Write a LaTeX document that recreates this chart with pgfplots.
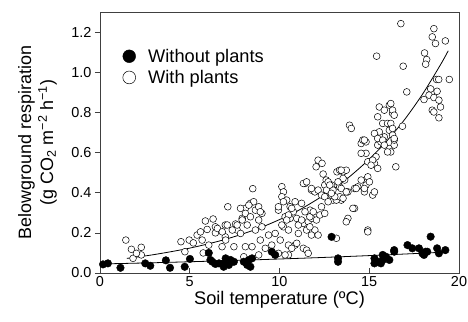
\documentclass[border=0pt]{standalone}
\usepackage{pgfplots}
\pgfplotsset{compat=1.18}
\usepackage{fontspec}
\setmainfont{Liberation Sans}

\pgfplotstableread{
x y
1.44 0.164
1.75 0.118
2.30 0.128
1.84 0.073
2.30 0.090
2.03 0.098
4.51 0.156
4.97 0.164
4.73 0.106
5.41 0.189
5.69 0.164
5.87 0.259
5.97 0.217
6.30 0.269
6.43 0.230
6.43 0.200
5.60 0.205
5.20 0.150
5.75 0.100
6.06 0.139
6.80 0.131
6.98 0.180
7.12 0.330
6.98 0.239
6.54 0.222
7.55 0.244
7.64 0.214
7.92 0.272
8.10 0.322
8.51 0.420
8.38 0.347
8.56 0.355
8.66 0.313
8.84 0.330
9.02 0.297
7.83 0.322
8.10 0.297
8.29 0.338
8.93 0.305
8.38 0.280
8.84 0.264
7.92 0.264
7.64 0.239
8.20 0.239
7.37 0.214
7.09 0.239
6.81 0.205
7.83 0.197
8.66 0.214
9.02 0.230
9.39 0.189
9.76 0.197
8.93 0.164
8.47 0.131
8.10 0.131
9.21 0.123
9.57 0.139
10.04 0.164
10.50 0.139
10.87 0.139
11.33 0.123
11.51 0.114
10.50 0.090
9.94 0.098
8.84 0.090
8.01 0.081
7.46 0.131
7.00 0.164
10.13 0.430
10.22 0.404
10.13 0.380
10.40 0.363
10.59 0.330
10.87 0.355
11.23 0.347
10.77 0.305
10.96 0.272
10.59 0.272
10.31 0.280
9.94 0.313
10.22 0.230
10.50 0.214
11.05 0.197
11.33 0.247
11.60 0.256
11.79 0.272
12.06 0.264
11.97 0.214
11.51 0.214
11.70 0.313
11.42 0.446
11.78 0.413
11.97 0.404
12.15 0.413
12.34 0.388
12.52 0.380
12.98 0.363
12.15 0.562
12.37 0.546
12.04 0.529
12.43 0.493
12.60 0.463
12.90 0.438
12.70 0.416
13.20 0.504
10.22 0.355
9.94 0.330
10.68 0.322
10.50 0.289
10.40 0.264
10.13 0.239
11.05 0.239
11.23 0.264
11.42 0.305
11.69 0.280
11.88 0.305
12.25 0.289
11.69 0.230
11.78 0.189
12.15 0.189
12.34 0.330
12.71 0.355
12.52 0.297
12.89 0.388
12.98 0.413
13.35 0.429
13.44 0.363
13.17 0.363
13.81 0.404
14.18 0.421
14.36 0.429
14.55 0.463
14.92 0.463
14.73 0.404
15.19 0.388
15.29 0.404
14.82 0.438
13.63 0.463
13.35 0.512
13.54 0.504
13.72 0.512
12.52 0.438
12.71 0.454
12.62 0.413
11.33 0.446
11.51 0.454
11.78 0.421
14.18 0.322
13.81 0.272
13.72 0.255
14.92 0.214
10.96 0.148
10.31 0.090
10.68 0.123
11.60 0.098
13.17 0.173
14.55 0.645
14.82 0.596
15.01 0.554
15.29 0.546
15.38 0.579
14.64 0.662
14.82 0.653
15.47 0.637
15.65 0.653
15.84 0.678
15.56 0.687
16.12 0.620
16.20 0.603
16.39 0.637
16.48 0.529
15.56 0.827
15.84 0.811
16.12 0.836
16.30 0.795
15.47 0.778
15.75 0.745
16.02 0.745
15.56 0.703
15.29 0.695
15.47 0.670
15.75 0.662
16.12 0.711
16.30 0.687
16.39 0.662
16.02 0.603
15.84 0.637
14.73 0.662
14.55 0.596
14.92 0.554
15.19 0.562
15.10 0.537
15.47 0.521
14.92 0.479
15.01 0.454
14.73 0.421
14.27 0.421
13.90 0.736
14.00 0.720
13.44 0.512
13.54 0.471
13.26 0.454
13.44 0.421
13.35 0.380
13.08 0.380
12.89 0.397
12.80 0.438
13.72 0.404
13.54 0.372
14.09 0.322
14.92 0.205
16.76 1.242
18.60 1.217
18.51 1.176
18.69 1.143
19.24 1.156
18.08 1.096
18.20 1.063
18.14 1.040
16.89 1.030
18.75 0.964
18.87 0.964
19.46 0.964
17.09 0.902
18.42 0.917
18.78 0.905
18.33 0.886
18.60 0.874
18.88 0.861
18.05 0.864
18.97 0.827
18.51 0.811
18.60 0.802
18.88 0.773
16.20 0.844
16.30 0.811
16.39 0.786
16.20 0.745
16.30 0.720
16.85 0.731
15.41 1.080
16.39 0.670
}\withplants

\pgfplotstableread{
x y
0.17 0.043
0.44 0.048
1.14 0.026
2.52 0.048
2.80 0.036
3.67 0.063
3.90 0.026
4.72 0.031
5.01 0.070
6.06 0.100
6.15 0.065
6.43 0.045
6.89 0.031
6.26 0.056
6.63 0.048
7.00 0.073
7.27 0.065
7.18 0.040
7.46 0.056
6.91 0.048
8.01 0.056
8.29 0.065
8.47 0.073
8.38 0.031
8.20 0.040
9.57 0.106
9.76 0.090
12.90 0.180
13.26 0.073
13.26 0.056
15.29 0.073
15.47 0.056
15.75 0.065
15.93 0.081
15.65 0.048
16.39 0.106
15.29 0.048
15.75 0.090
16.12 0.065
16.39 0.114
17.13 0.139
17.40 0.123
17.77 0.123
18.05 0.090
18.23 0.106
18.42 0.181
18.78 0.123
18.88 0.098
19.24 0.114
18.14 0.106
17.96 0.098
}\withoutplants

\pgfplotstableread{
x y
1.5 0.0729
3 0.0915
5 0.124
7 0.168
9 0.228
11 0.309
13 0.418
14 0.487
15 0.567
16 0.660
17 0.768
18 0.895
19 1.042
19.4 1.107
}\fitwith

\pgfplotstableread{
x y
0 0.045
2.5 0.050
5 0.056
7.5 0.0625
10 0.0697
12.5 0.0777
15 0.0867
17.5 0.0967
19.4 0.105
}\fitwithout

\pgfplotsset{
  openleg/.style={legend image code/.code={\path[draw=none,fill=none] (0bp,0bp) -- (27bp,0bp); \draw[mark=*, mark size=6.4bp, draw=black, fill=white, line width=0.5pt] plot coordinates {(10bp,0bp)};}},
  filledleg/.style={legend image code/.code={\path[draw=none,fill=none] (0bp,0bp) -- (27bp,0bp); \draw[mark=*, mark size=6.4bp, draw=black, fill=black] plot coordinates {(10bp,0bp)};}},
}

\begin{document}
\begin{tikzpicture}
\begin{axis}[
  scale only axis, width=359bp, height=261bp,
  xmin=0, xmax=20, ymin=0, ymax=1.3,
  xtick={0,5,10,15,20}, ytick={0,0.2,0.4,0.6,0.8,1.0,1.2},
  yticklabel style={/pgf/number format/.cd, fixed, fixed zerofill, precision=1},
  /pgf/number format/assume math mode=true,
  ticklabel style={font=\fontsize{14.5}{16}\selectfont},
  xtick align=inside, ytick align=outside,
  major tick length=5bp,
  tick style={black!75, line width=0.6pt},
  axis line style={black!75, line width=0.7pt},
  xtick pos=bottom, ytick pos=left,
  xlabel={Soil temperature (ºC)},
  ylabel={Belowground respiration\\(g CO\textsubscript{2} m\textsuperscript{−2} h\textsuperscript{−1})},
  ylabel style={at={(axis description cs:0,0.5)}, anchor=south, yshift=43bp, inner sep=0pt,
    align=center, font=\fontsize{18}{22}\selectfont},
  xlabel style={at={(axis description cs:0.5,0)}, anchor=north, yshift=-18.5bp, inner sep=0pt,
    font=\fontsize{18.3}{22}\selectfont},
  legend style={at={(axis description cs:0.053,0.867)}, anchor=north west, draw=none, fill=none,
    font=\fontsize{18.3}{22}\selectfont, row sep=2.5bp, inner sep=0pt},
  legend cell align=left,
  reverse legend,
]
\addplot[only marks, mark=*, mark size=3.4bp, draw=black, fill=white, line width=0.5pt, openleg]
  table {\withplants};
\addlegendentry{With plants}
\addplot[only marks, mark=*, mark size=3.8bp, draw=black, fill=black, filledleg]
  table {\withoutplants};
\addlegendentry{Without plants}
\addplot[black, line width=0.8pt, smooth, forget plot] table {\fitwith};
\addplot[black, line width=0.8pt, smooth, forget plot] table {\fitwithout};
\end{axis}
\pgfresetboundingbox
\path[use as bounding box] (-100bp,-49bp) rectangle (368bp,273bp);
\end{tikzpicture}
\end{document}
